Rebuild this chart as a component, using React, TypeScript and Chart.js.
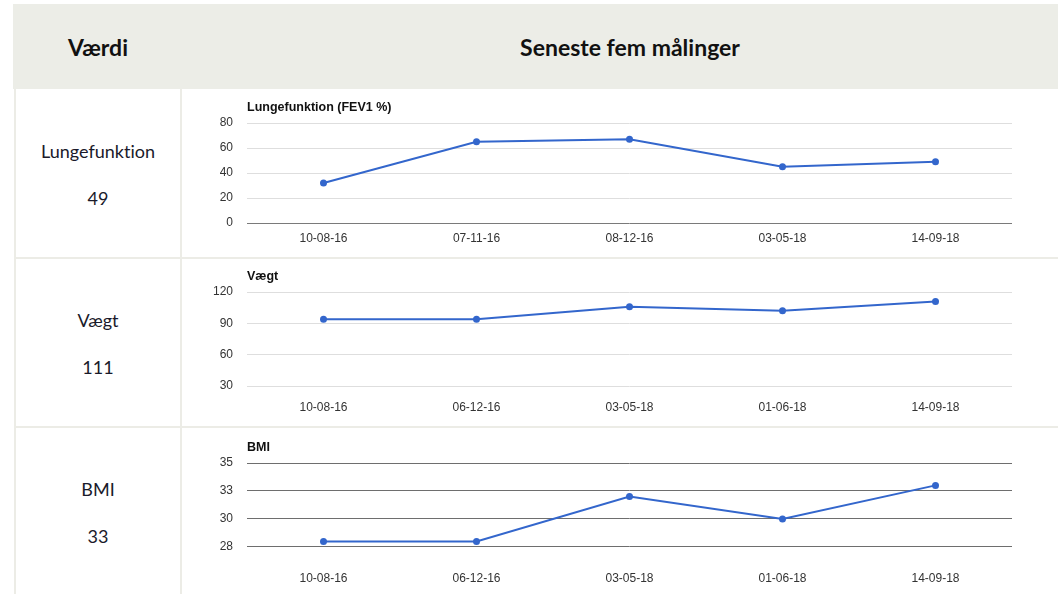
import React, { useEffect, useRef } from "react";
import { Chart, registerables } from "chart.js";

Chart.register(...registerables);

// ---- data ----
const lungDates = ["10-08-16", "07-11-16", "08-12-16", "03-05-18", "14-09-18"];
const lungValues = [32, 65, 67, 45, 49];
const lungTicks = [0, 20, 40, 60, 80];

const weightDates = ["10-08-16", "06-12-16", "03-05-18", "01-06-18", "14-09-18"];
const weightValues = [94, 94, 106, 102, 111];
const weightTicks = [30, 60, 90, 120];

const bmiDates = ["10-08-16", "06-12-16", "03-05-18", "01-06-18", "14-09-18"];
const bmiValues = [28, 28, 32, 30, 33];
const bmiTicks = [27.5, 30, 32.5, 35];

const rowLabels = ["Lungefunktion", "Vægt", "BMI"];
const rowValues = ["49", "111", "33"];
const headerLabels = ["Værdi", "Seneste fem målinger"];

const BLUE = "#3366cc";
const AXIS_FONT = '"Liberation Sans", Arial, sans-serif';

const leftTitlePlugin = {
  id: "leftTitle",
  afterDraw(chart: any, _args: any, opts: any) {
    const { ctx, chartArea } = chart;
    ctx.save();
    ctx.font = `bold 12.5px ${AXIS_FONT}`;
    ctx.fillStyle = "#111";
    ctx.textAlign = "left";
    ctx.textBaseline = "middle";
    ctx.fillText(opts.text, chartArea.left, chartArea.top - 15);
    ctx.restore();
  },
};

type MiniProps = {
  title: string;
  labels: string[];
  values: number[];
  ticks: number[];
  min: number;
  max: number;
  top: number;
  dark: boolean;
};

function MiniChart(p: MiniProps) {
  const ref = useRef<HTMLCanvasElement | null>(null);
  useEffect(() => {
    if (!ref.current) return;
    const chart = new Chart(ref.current, {
      type: "line",
      data: {
        labels: p.labels,
        datasets: [
          {
            data: p.values,
            borderColor: BLUE,
            backgroundColor: BLUE,
            borderWidth: 2,
            pointRadius: 3.5,
            pointBorderWidth: 0,
            tension: 0,
          },
        ],
      },
      plugins: [leftTitlePlugin],
      options: {
        animation: false,
        responsive: false,
        events: [],
        layout: { padding: { top: 31, right: 18, bottom: 0, left: 0 } },
        plugins: {
          legend: { display: false },
          tooltip: { enabled: false },
          leftTitle: { text: p.title },
        } as any,
        scales: {
          x: {
            type: "category",
            offset: true,
            grid: { display: false, drawTicks: false },
            border: { display: false },
            ticks: {
              padding: 8,
              maxRotation: 0,
              autoSkip: false,
              color: "#333",
              font: { family: AXIS_FONT, size: 12 },
            },
            afterFit: (s: any) => {
              s.height = 29;
            },
          },
          y: {
            min: p.min,
            max: p.max,
            border: { display: false },
            grid: {
              drawTicks: false,
              lineWidth: 1,
              color: (c: any) =>
                p.dark ? "#6e6e6e" : c.tick && c.tick.value === 0 ? "#7a7a7a" : "#dedede",
            },
            ticks: {
              padding: 14,
              color: "#333",
              font: { family: AXIS_FONT, size: 12 },
              callback: (v: any) => String(Math.round(Number(v))),
            },
            afterBuildTicks: (axis: any) => {
              axis.ticks = p.ticks.map((v) => ({ value: v }));
            },
            afterFit: (s: any) => {
              s.width = 64;
            },
          },
        },
      } as any,
    });
    return () => chart.destroy();
  }, []);
  return (
    <canvas
      ref={ref}
      width={847}
      height={160}
      style={{ position: "absolute", left: 183, top: p.top, width: 847, height: 160 }}
    />
  );
}

const BORDER = "#ecece6";
const TEXT_FONT = 'Lato, "Open Sans", sans-serif';

export default function App() {
  const rowTops = [89, 258, 427];
  const rowCenters = [173, 342, 511];
  const headStyle: React.CSSProperties = {
    position: "absolute",
    top: 47,
    textAlign: "center",
    transform: "translateY(-50%)",
    fontFamily: TEXT_FONT,
    fontWeight: 700,
    fontSize: 23,
    color: "#111",
    fontVariantLigatures: "none",
    whiteSpace: "nowrap",
  };
  const cellStyle: React.CSSProperties = {
    position: "absolute",
    left: 15,
    width: 166,
    transform: "translateY(-50%)",
    textAlign: "center",
    fontFamily: TEXT_FONT,
    fontSize: 18,
    color: "#1a1a2a",
    fontVariantLigatures: "none",
    whiteSpace: "nowrap",
  };
  return (
    <div
      style={{
        position: "fixed",
        left: 0,
        top: 0,
        width: 1058,
        height: 594,
        background: "#fff",
        overflow: "hidden",
      }}
    >
      {/* header */}
      <div
        style={{
          position: "absolute",
          left: 13,
          top: 4,
          width: 1045,
          height: 85,
          background: "#ecede7",
        }}
      />
      <div style={{ ...headStyle, left: 15, width: 166 }}>{headerLabels[0]}</div>
      <div style={{ ...headStyle, left: 181, width: 898 }}>{headerLabels[1]}</div>
      {/* grid borders */}
      <div style={{ position: "absolute", left: 14, top: 89, width: 2, height: 505, background: BORDER }} />
      <div style={{ position: "absolute", left: 180, top: 89, width: 2, height: 505, background: BORDER }} />
      {rowTops.slice(1).map((t) => (
        <div key={t} style={{ position: "absolute", left: 14, top: t - 1, width: 1044, height: 2, background: BORDER }} />
      ))}
      {/* left labels */}
      {rowLabels.map((l, i) => (
        <React.Fragment key={l}>
          <div style={{ ...cellStyle, top: rowCenters[i] - 22 }}>{l}</div>
          <div style={{ ...cellStyle, top: rowCenters[i] + 25 }}>{rowValues[i]}</div>
        </React.Fragment>
      ))}
      <MiniChart
        title="Lungefunktion (FEV1 %)"
        labels={lungDates}
        values={lungValues}
        ticks={lungTicks}
        min={0}
        max={80}
        top={92}
        dark={false}
      />
      <MiniChart
        title="Vægt"
        labels={weightDates}
        values={weightValues}
        ticks={weightTicks}
        min={24.3}
        max={120}
        top={261}
        dark={false}
      />
      <MiniChart
        title="BMI"
        labels={bmiDates}
        values={bmiValues}
        ticks={bmiTicks}
        min={26.07}
        max={35}
        top={432}
        dark={true}
      />
    </div>
  );
}
